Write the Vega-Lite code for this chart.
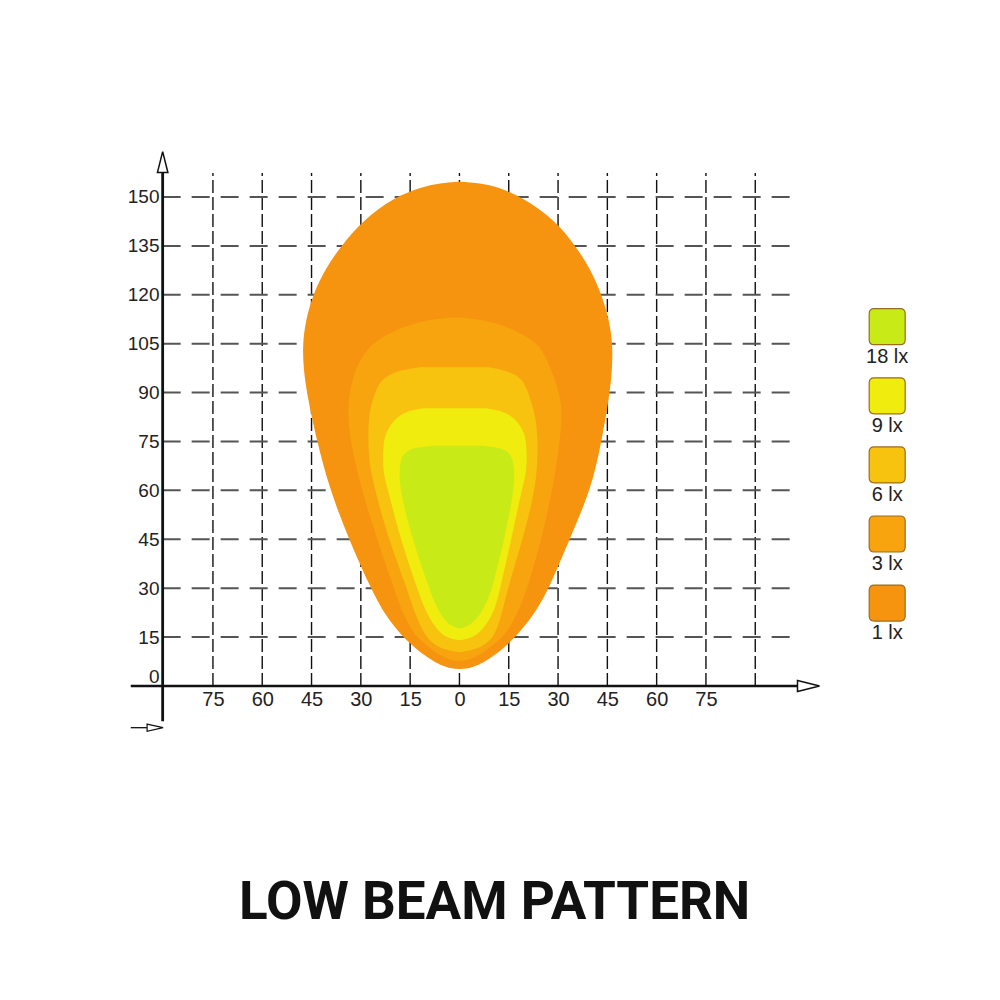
{
  "$schema": "https://vega.github.io/schema/vega-lite/v6.json",
  "background": "white",
  "padding": {"left": 124.2, "top": 148.1, "right": 0, "bottom": 0},
  "config": {"view": {"stroke": null}},
  "title": {"text": "LOW BEAM PATTERN", "orient": "bottom", "anchor": "middle", "baseline": "alphabetic", "offset": 185.5, "dx": -23.6, "font": "Roboto", "fontSize": 53, "fontWeight": "bold", "color": "#111111"},
  "datasets": {
    "beam": [
      {"level":"1 lx","y":5.2,"xl":-0.6,"xr":0.6},
      {"level":"1 lx","y":5.5,"xl":-3.2,"xr":3.2},
      {"level":"1 lx","y":6.5,"xl":-6.0,"xr":6.0},
      {"level":"1 lx","y":8.0,"xl":-8.6,"xr":8.6},
      {"level":"1 lx","y":10.5,"xl":-12.2,"xr":12.2},
      {"level":"1 lx","y":15.3,"xl":-17.6,"xr":17.4},
      {"level":"1 lx","y":22.0,"xl":-22.8,"xr":22.8},
      {"level":"1 lx","y":30.4,"xl":-27.2,"xr":27.5},
      {"level":"1 lx","y":45.4,"xl":-33.8,"xr":33.6},
      {"level":"1 lx","y":60.1,"xl":-39.4,"xr":40.0},
      {"level":"1 lx","y":75.2,"xl":-43.4,"xr":43.3},
      {"level":"1 lx","y":90.0,"xl":-46.5,"xr":45.8},
      {"level":"1 lx","y":98.0,"xl":-47.5,"xr":46.5},
      {"level":"1 lx","y":105.0,"xl":-47.7,"xr":46.6},
      {"level":"1 lx","y":112.0,"xl":-46.8,"xr":45.6},
      {"level":"1 lx","y":120.0,"xl":-44.6,"xr":43.3},
      {"level":"1 lx","y":128.0,"xl":-40.8,"xr":39.8},
      {"level":"1 lx","y":135.0,"xl":-36.0,"xr":35.3},
      {"level":"1 lx","y":142.9,"xl":-29.3,"xr":29.1},
      {"level":"1 lx","y":149.8,"xl":-20.1,"xr":19.4},
      {"level":"1 lx","y":153.2,"xl":-11.0,"xr":11.3},
      {"level":"1 lx","y":154.2,"xl":-5.9,"xr":6.2},
      {"level":"1 lx","y":154.7,"xl":-0.6,"xr":0.6},
      {"level":"3 lx","y":7.7,"xl":-0.6,"xr":0.6},
      {"level":"3 lx","y":8.0,"xl":-2.8,"xr":2.8},
      {"level":"3 lx","y":9.0,"xl":-5.3,"xr":5.3},
      {"level":"3 lx","y":10.5,"xl":-7.6,"xr":7.6},
      {"level":"3 lx","y":12.5,"xl":-10.0,"xr":10.1},
      {"level":"3 lx","y":15.3,"xl":-13.5,"xr":13.8},
      {"level":"3 lx","y":22.0,"xl":-17.2,"xr":17.6},
      {"level":"3 lx","y":30.4,"xl":-20.1,"xr":20.9},
      {"level":"3 lx","y":45.4,"xl":-25.2,"xr":25.0},
      {"level":"3 lx","y":60.1,"xl":-29.8,"xr":28.4},
      {"level":"3 lx","y":75.2,"xl":-33.3,"xr":30.6},
      {"level":"3 lx","y":86.8,"xl":-34.3,"xr":31.6},
      {"level":"3 lx","y":96.9,"xl":-31.8,"xr":28.0},
      {"level":"3 lx","y":101.0,"xl":-29.6,"xr":26.2},
      {"level":"3 lx","y":105.2,"xl":-26.6,"xr":23.9},
      {"level":"3 lx","y":109.2,"xl":-19.6,"xr":16.9},
      {"level":"3 lx","y":111.3,"xl":-13.5,"xr":11.3},
      {"level":"3 lx","y":112.4,"xl":-8.5,"xr":6.0},
      {"level":"3 lx","y":113.0,"xl":-3.0,"xr":1.0},
      {"level":"6 lx","y":10.4,"xl":-0.6,"xr":0.6},
      {"level":"6 lx","y":10.8,"xl":-3.0,"xr":3.0},
      {"level":"6 lx","y":12.1,"xl":-7.0,"xr":7.2},
      {"level":"6 lx","y":15.3,"xl":-10.5,"xr":10.8},
      {"level":"6 lx","y":22.0,"xl":-13.5,"xr":12.9},
      {"level":"6 lx","y":30.4,"xl":-16.1,"xr":14.8},
      {"level":"6 lx","y":45.4,"xl":-21.7,"xr":19.4},
      {"level":"6 lx","y":60.1,"xl":-25.7,"xr":23.0},
      {"level":"6 lx","y":69.0,"xl":-27.6,"xr":23.8},
      {"level":"6 lx","y":78.0,"xl":-27.8,"xr":23.8},
      {"level":"6 lx","y":84.7,"xl":-27.4,"xr":22.7},
      {"level":"6 lx","y":91.8,"xl":-25.2,"xr":20.4},
      {"level":"6 lx","y":94.9,"xl":-22.7,"xr":18.4},
      {"level":"6 lx","y":96.9,"xl":-18.1,"xr":13.8},
      {"level":"6 lx","y":97.8,"xl":-12.0,"xr":9.0},
      {"level":"9 lx","y":14.1,"xl":-0.6,"xr":0.6},
      {"level":"9 lx","y":14.5,"xl":-3.0,"xr":3.0},
      {"level":"9 lx","y":16.0,"xl":-5.5,"xr":5.6},
      {"level":"9 lx","y":18.2,"xl":-7.5,"xr":7.8},
      {"level":"9 lx","y":23.3,"xl":-10.5,"xr":10.8},
      {"level":"9 lx","y":29.5,"xl":-12.7,"xr":12.3},
      {"level":"9 lx","y":45.4,"xl":-18.1,"xr":15.9},
      {"level":"9 lx","y":60.1,"xl":-21.7,"xr":18.9},
      {"level":"9 lx","y":66.0,"xl":-23.4,"xr":20.6},
      {"level":"9 lx","y":74.4,"xl":-23.2,"xr":20.4},
      {"level":"9 lx","y":78.0,"xl":-22.3,"xr":19.7},
      {"level":"9 lx","y":82.0,"xl":-19.6,"xr":17.0},
      {"level":"9 lx","y":84.3,"xl":-16.2,"xr":13.5},
      {"level":"9 lx","y":85.2,"xl":-11.0,"xr":8.0},
      {"level":"18 lx","y":17.7,"xl":-0.6,"xr":0.8},
      {"level":"18 lx","y":18.3,"xl":-2.0,"xr":2.3},
      {"level":"18 lx","y":19.3,"xl":-3.6,"xr":3.9},
      {"level":"18 lx","y":21.0,"xl":-5.0,"xr":5.5},
      {"level":"18 lx","y":23.3,"xl":-6.5,"xr":7.2},
      {"level":"18 lx","y":28.4,"xl":-8.7,"xr":9.4},
      {"level":"18 lx","y":30.4,"xl":-9.3,"xr":10.0},
      {"level":"18 lx","y":45.4,"xl":-14.5,"xr":13.8},
      {"level":"18 lx","y":60.1,"xl":-18.1,"xr":16.6},
      {"level":"18 lx","y":66.0,"xl":-18.3,"xr":16.7},
      {"level":"18 lx","y":70.0,"xl":-17.8,"xr":16.2},
      {"level":"18 lx","y":72.3,"xl":-16.0,"xr":14.5},
      {"level":"18 lx","y":73.3,"xl":-12.5,"xr":11.0},
      {"level":"18 lx","y":73.7,"xl":-8.0,"xr":7.0}
    ],
    "gridx": [{"gx":-75},{"gx":-60},{"gx":-45},{"gx":-30},{"gx":-15},{"gx":0},{"gx":15},{"gx":30},{"gx":45},{"gx":60},{"gx":75},{"gx":90}],
    "gridy": [{"gy":15},{"gy":30},{"gy":45},{"gy":60},{"gy":75},{"gy":90},{"gy":105},{"gy":120},{"gy":135},{"gy":150}],
    "legend": [{"level":"18 lx"},{"level":"9 lx"},{"level":"6 lx"},{"level":"3 lx"},{"level":"1 lx"}]
  },
  "spacing": 39,
  "hconcat": [
    {
      "width": 696.8,
      "height": 583.5,
      "layer": [
        {
          "data": {"name": "gridx"},
          "mark": {"type": "rule", "color": "#111111", "strokeWidth": 1.4, "strokeDash": [13, 4]},
          "encoding": {
            "x": {"field": "gx", "type": "quantitative", "scale": {"domain": [-102, 110], "nice": false, "zero": false}, "axis": {"title": null, "values": [-75,-60,-45,-30,-15,0,15,30,45,60,75], "labelExpr": "abs(datum.value)", "domain": false, "ticks": false, "grid": false, "offset": -45.6, "labelPadding": 4, "labelFont": "Liberation Sans", "labelFontSize": 20, "labelColor": "#222222", "labelFlush": false, "labelOverlap": false}},
            "y": {"datum": 0, "type": "quantitative", "scale": {"domain": [-14, 165], "nice": false, "zero": false}, "axis": {"title": null, "values": [0,15,30,45,60,75,90,105,120,135,150], "domain": false, "ticks": false, "grid": false, "offset": -37.8, "labelPadding": 3, "labelFont": "Liberation Sans", "labelFontSize": 19, "labelColor": "#222222", "labelFlush": false, "labelOverlap": false, "labelOffset": {"condition": {"test": "datum.value === 0", "value": -9}, "value": 0}}},
            "y2": {"datum": 157.4}
          }
        },
        {
          "data": {"name": "gridy"},
          "mark": {"type": "rule", "color": "#555555", "strokeWidth": 2, "strokeDash": [18, 11]},
          "encoding": {
            "y": {"field": "gy", "type": "quantitative"},
            "x": {"datum": -90.3, "type": "quantitative"},
            "x2": {"datum": 101.5}
          }
        },
        {
          "data": {"name": "beam"},
          "transform": [{"filter": "datum.level === '1 lx'"}],
          "mark": {"type": "area", "orient": "horizontal", "interpolate": "basis", "opacity": 1},
          "encoding": {
            "y": {"field": "y", "type": "quantitative"},
            "x": {"field": "xl", "type": "quantitative", "stack": null},
            "x2": {"field": "xr"},
            "color": {"field": "level", "type": "nominal", "scale": {"domain": ["18 lx","9 lx","6 lx","3 lx","1 lx"], "range": ["#C8EB17","#EFEC0E","#F7C30F","#F7A40F","#F6930F"]}, "legend": null}
          }
        },
        {
          "data": {"name": "beam"},
          "transform": [{"filter": "datum.level === '3 lx'"}],
          "mark": {"type": "area", "orient": "horizontal", "interpolate": "basis", "opacity": 1},
          "encoding": {
            "y": {"field": "y", "type": "quantitative"},
            "x": {"field": "xl", "type": "quantitative", "stack": null},
            "x2": {"field": "xr"},
            "color": {"field": "level", "type": "nominal", "legend": null}
          }
        },
        {
          "data": {"name": "beam"},
          "transform": [{"filter": "datum.level === '6 lx'"}],
          "mark": {"type": "area", "orient": "horizontal", "interpolate": "basis", "opacity": 1},
          "encoding": {
            "y": {"field": "y", "type": "quantitative"},
            "x": {"field": "xl", "type": "quantitative", "stack": null},
            "x2": {"field": "xr"},
            "color": {"field": "level", "type": "nominal", "legend": null}
          }
        },
        {
          "data": {"name": "beam"},
          "transform": [{"filter": "datum.level === '9 lx'"}],
          "mark": {"type": "area", "orient": "horizontal", "interpolate": "basis", "opacity": 1},
          "encoding": {
            "y": {"field": "y", "type": "quantitative"},
            "x": {"field": "xl", "type": "quantitative", "stack": null},
            "x2": {"field": "xr"},
            "color": {"field": "level", "type": "nominal", "legend": null}
          }
        },
        {
          "data": {"name": "beam"},
          "transform": [{"filter": "datum.level === '18 lx'"}],
          "mark": {"type": "area", "orient": "horizontal", "interpolate": "basis", "opacity": 1},
          "encoding": {
            "y": {"field": "y", "type": "quantitative"},
            "x": {"field": "xl", "type": "quantitative", "stack": null},
            "x2": {"field": "xr"},
            "color": {"field": "level", "type": "nominal", "legend": null}
          }
        },
        {
          "data": {"values": [{}]},
          "mark": {"type": "rule", "color": "#111111", "strokeWidth": 2.5},
          "encoding": {
            "x": {"datum": -100, "type": "quantitative"},
            "x2": {"datum": 102.8},
            "y": {"datum": 0, "type": "quantitative"}
          }
        },
        {
          "data": {"values": [{}]},
          "mark": {"type": "rule", "color": "#111111", "strokeWidth": 2.8},
          "encoding": {
            "x": {"datum": -90.3, "type": "quantitative"},
            "y": {"datum": -10.8, "type": "quantitative"},
            "y2": {"datum": 157.5}
          }
        },
        {
          "data": {"values": [{}]},
          "mark": {"type": "rule", "color": "#111111", "strokeWidth": 1.3},
          "encoding": {
            "x": {"datum": -100, "type": "quantitative"},
            "x2": {"datum": -95.1},
            "y": {"datum": -12.8, "type": "quantitative"}
          }
        },
        {
          "data": {"values": [{}]},
          "mark": {"type": "point", "shape": "M-1,-0.5L1,0L-1,0.5Z", "size": 484, "filled": true, "fill": "white", "stroke": "#111111", "strokeWidth": 1.5, "opacity": 1},
          "encoding": {
            "x": {"datum": 106.2, "type": "quantitative"},
            "y": {"datum": 0, "type": "quantitative"}
          }
        },
        {
          "data": {"values": [{}]},
          "mark": {"type": "point", "shape": "M-0.5,1L0,-1L0.5,1Z", "size": 441, "filled": true, "fill": "white", "stroke": "#111111", "strokeWidth": 1.5, "opacity": 1},
          "encoding": {
            "x": {"datum": -90.3, "type": "quantitative"},
            "y": {"datum": 160.7, "type": "quantitative"}
          }
        },
        {
          "data": {"values": [{}]},
          "mark": {"type": "point", "shape": "M-1,-0.45L1,0L-1,0.45Z", "size": 256, "filled": true, "fill": "white", "stroke": "#111111", "strokeWidth": 1.2, "opacity": 1},
          "encoding": {
            "x": {"datum": -92.6, "type": "quantitative"},
            "y": {"datum": -12.8, "type": "quantitative"}
          }
        }
      ]
    },
    {
      "width": 50,
      "height": 583.5,
      "data": {"name": "legend"},
      "layer": [
        {
          "mark": {"type": "point", "shape": "M-0.72,-1L0.72,-1Q1,-1 1,-0.72L1,0.72Q1,1 0.72,1L-0.72,1Q-1,1 -1,0.72L-1,-0.72Q-1,-1 -0.72,-1Z", "size": 1296, "filled": true, "stroke": "#9c6c1e", "strokeWidth": 1.2, "opacity": 1},
          "encoding": {
            "y": {"field": "level", "type": "nominal", "scale": {"type": "point", "domain": ["18 lx","9 lx","6 lx","3 lx","1 lx"], "range": [178.6, 455.0], "padding": 0}, "axis": null},
            "color": {"field": "level", "type": "nominal", "legend": null}
          }
        },
        {
          "mark": {"type": "text", "dy": 30, "font": "Liberation Sans", "fontSize": 20, "color": "#222222"},
          "encoding": {
            "y": {"field": "level", "type": "nominal"},
            "text": {"field": "level"}
          }
        }
      ]
    }
  ]
}
